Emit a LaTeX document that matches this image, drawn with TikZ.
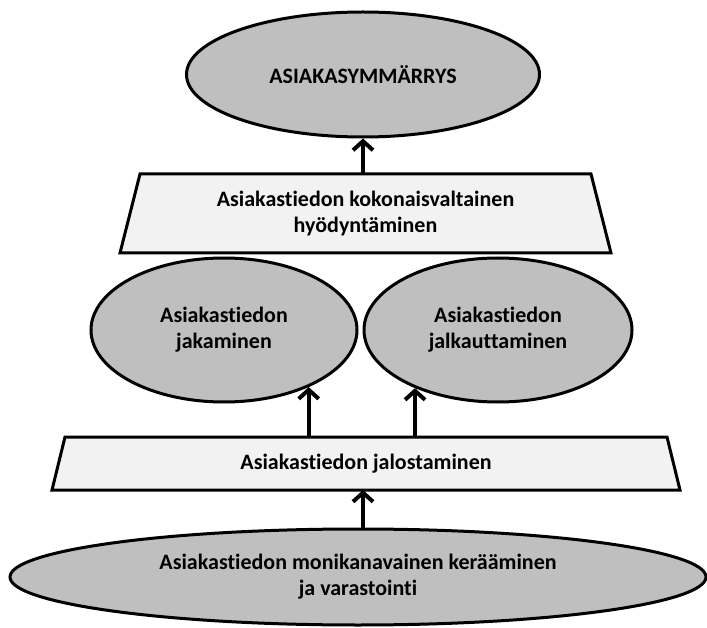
\documentclass[tikz,border=0pt]{standalone}
\usepackage{fontspec}
\setmainfont{Carlito}[Ligatures=NoCommon]
\usetikzlibrary{shapes.geometric,arrows.meta,calc,backgrounds}

\definecolor{ovalgray}{RGB}{191,191,191}
\definecolor{plategray}{RGB}{242,242,242}

\begin{document}
\begin{tikzpicture}[x=1pt,y=-1pt,
  every node/.style={font=\bfseries\fontsize{22}{26}\selectfont, align=center, inner sep=0pt},
  oval/.style={ellipse, draw=black, line width=3pt, fill=ovalgray},
  plate/.style={rectangle, outer sep=0pt},
  plateline/.style={draw=black, line width=3pt, line join=miter, fill=plategray},
  up/.style={line width=4pt, -{Straight Barb[length=9pt,width=20pt,line width=4pt]}}
]
\useasboundingbox (0,0) rectangle (707,628);

% top goal
\node[oval, minimum width=353pt, minimum height=125pt] (ymm) at (363,74.5) {ASIAKASYMMÄRRYS};

% upper plate
\node[plate, minimum width=491pt, minimum height=79pt] (kok) at (365.5,213.5)
      {Asiakastiedon kokonaisvaltainen\\hyödyntäminen};

% middle pair
\node[oval, minimum width=266pt, minimum height=144pt] (jak) at (224,330) {Asiakastiedon\\jakaminen};
\node[oval, minimum width=268pt, minimum height=144pt] (jalk) at (498,330) {Asiakastiedon\\jalkauttaminen};

% lower plate
\node[plate, minimum width=628pt, minimum height=53pt] (jal) at (366,463.5)
      {Asiakastiedon jalostaminen};

% base
\node[oval, minimum width=696pt, minimum height=96pt] (ker) at (358,577)
      {Asiakastiedon monikanavainen kerääminen\\ja varastointi};

% trapezoid outlines behind the plate texts
\begin{scope}[on background layer]
  \path[plateline] (kok.south west) -- ($(kok.north west)+(20,0)$)
    -- ($(kok.north east)+(-20,0)$) -- (kok.south east) -- cycle;
  \path[plateline] (jal.south west) -- ($(jal.north west)+(13,0)$)
    -- ($(jal.north east)+(-13,0)$) -- (jal.south east) -- cycle;
\end{scope}

% connectors
\draw[up] (ymm.south |- kok.north) -- (ymm.south);
\draw[up] (jak.-34.8 |- jal.north) -- (jak.-34.8);
\draw[up] (jalk.-145.2 |- jal.north) -- (jalk.-145.2);
\draw[up] (ymm.south |- ker.north) -- (ymm.south |- jal.south);
\end{tikzpicture}
\end{document}
